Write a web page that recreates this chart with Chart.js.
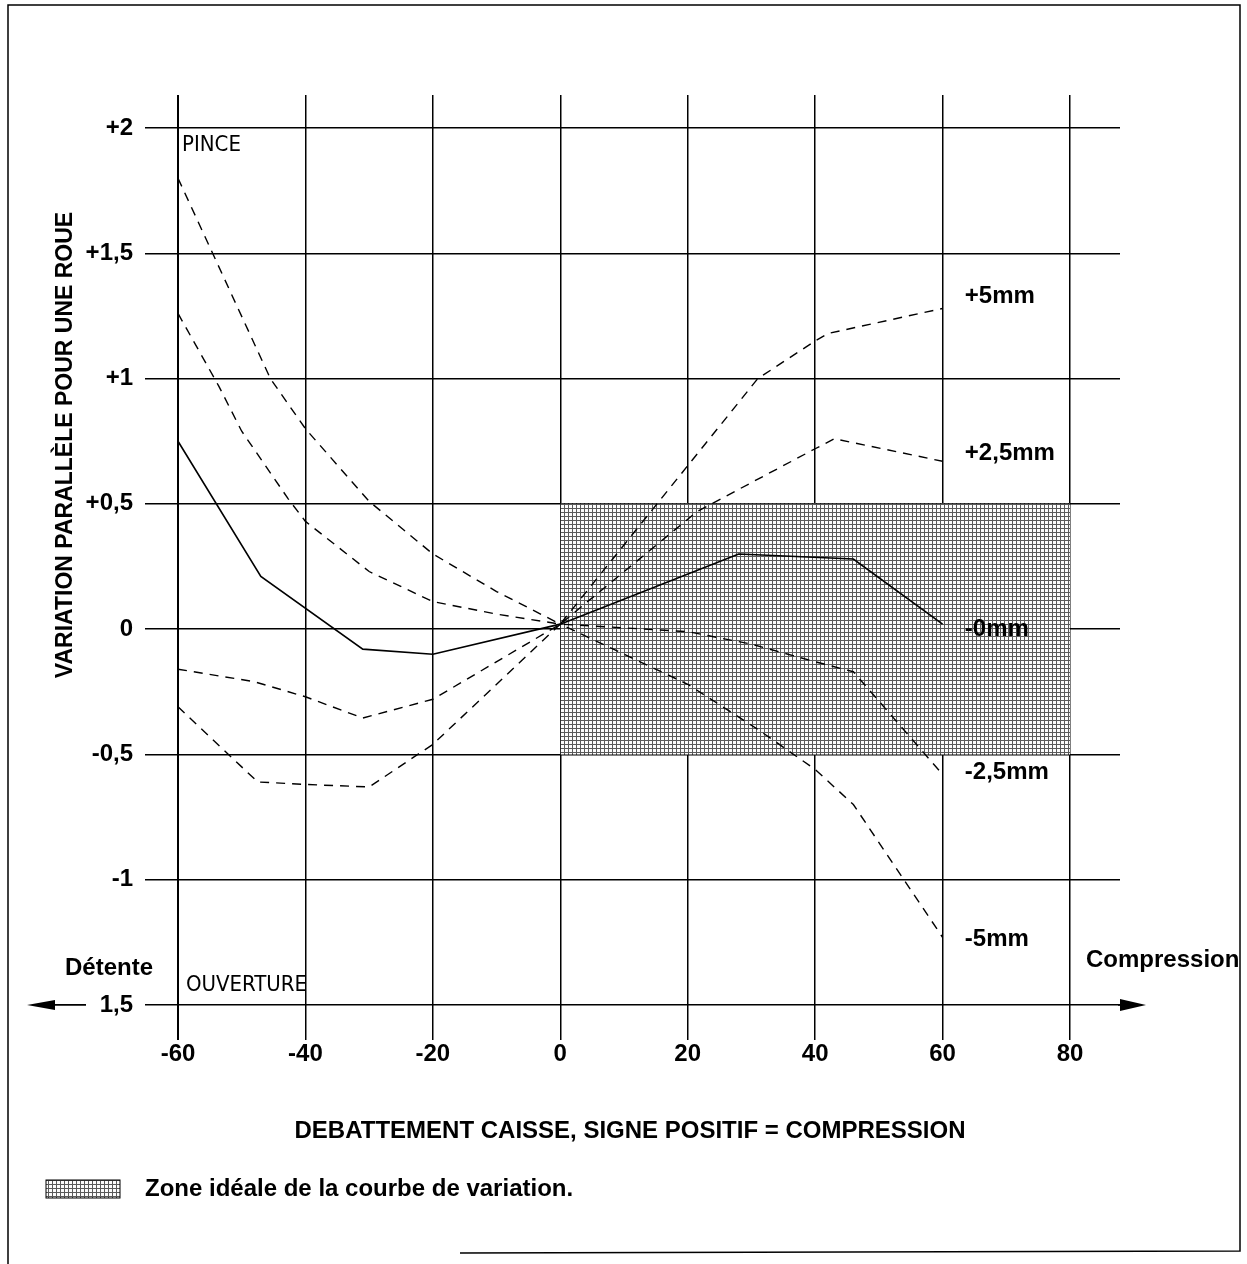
<!DOCTYPE html>
<html>
<head>
<meta charset="utf-8">
<script src="https://cdn.jsdelivr.net/npm/chart.js@4"></script>
<style>
  body { margin: 0; background: #fff; }
  #wrap { position: relative; width: 1247px; height: 1264px; }
</style>
</head>
<body>
<div id="wrap"><canvas id="myChart" width="1247" height="1264"></canvas></div>
<script>
// ticks
var xTicks = [-60, -40, -20, 0, 20, 40, 60, 80];
var xTickLabels = ["-60", "-40", "-20", "0", "20", "40", "60", "80"];
var yTicks = [-1.5, -1, -0.5, 0, 0.5, 1, 1.5, 2];
var yTickLabels = ["1,5", "-1", "-0,5", "0", "+0,5", "+1", "+1,5", "+2"];

// curves
var xPlus5 = [-60, -45.5, -40, -30, -20, -10, 0, 31, 40, 42, 60];
var yPlus5 = [1.8, 1.0, 0.8, 0.51, 0.3, 0.15, 0.02, 1.0, 1.15, 1.18, 1.28];

var xPlus25 = [-60, -53.6, -50, -42.7, -40, -30, -20, -10, 0, 21.5, 40, 43, 60];
var yPlus25 = [1.26, 0.97, 0.79, 0.52, 0.43, 0.23, 0.11, 0.06, 0.02, 0.47, 0.72, 0.76, 0.67];

var xZero = [-60, -47, -31, -20, 0, 28, 46, 60];
var yZero = [0.75, 0.21, -0.08, -0.1, 0.02, 0.3, 0.28, 0.02];

var xMinus25 = [-60, -48, -40, -31, -20, 0, 20, 30, 40, 46, 60];
var yMinus25 = [-0.16, -0.21, -0.27, -0.355, -0.28, 0.02, -0.01, -0.06, -0.13, -0.17, -0.58];

var xMinus5 = [-60, -47.5, -40, -30, -20, 0, 20, 31, 40, 46, 60];
var yMinus5 = [-0.31, -0.61, -0.62, -0.63, -0.46, 0.02, -0.22, -0.4, -0.56, -0.7, -1.23];

// ideal zone
var zoneX = [0, 80];
var zoneTop = 0.5;
var zoneBottom = -0.5;

// curve labels
var curveNames = ["+5mm", "+2,5mm", "-0mm", "-2,5mm", "-5mm"];
var curveLabelY = [1.33, 0.7, 0, -0.57, -1.24];

function pts(xs, ys) {
  return xs.map(function (x, i) { return { x: x, y: ys[i] }; });
}

// dotted screen used for the ideal zone
var tile = document.createElement("canvas");
tile.width = 4;
tile.height = 4;
var tc = tile.getContext("2d");
tc.fillStyle = "#fcfcfc";
tc.fillRect(0, 0, 4, 4);
tc.fillStyle = "#5a5a5a";
tc.fillRect(0, 0, 4, 1);
tc.fillRect(0, 0, 1, 4);
var zonePattern = tc.createPattern(tile, "repeat");

var FONT = "'Liberation Sans', Arial, sans-serif";
var NARROW = "'Liberation Sans Narrow', 'DejaVu Sans Condensed', sans-serif";

function curve(xs, ys, dashed) {
  return {
    data: pts(xs, ys),
    borderColor: "#000",
    borderWidth: dashed ? 1.4 : 1.6,
    borderDash: dashed ? [9, 7] : [],
    pointRadius: 0,
    fill: false,
    tension: 0,
    order: 0
  };
}

var decor = {
  id: "decor",
  afterDraw: function (chart) {
    var ctx = chart.ctx;
    var xs = chart.scales.x, ys = chart.scales.y;
    ctx.save();
    ctx.strokeStyle = "#000";
    ctx.fillStyle = "#000";

    // frame of the page
    ctx.lineWidth = 1.5;
    ctx.beginPath();
    ctx.moveTo(8, 1264);
    ctx.lineTo(8, 5);
    ctx.lineTo(1240, 5);
    ctx.lineTo(1240, 1251);
    ctx.lineTo(460, 1253);
    ctx.stroke();

    // arrows on the -1,5 line
    var yb = ys.getPixelForValue(-1.5);
    ctx.lineWidth = 1.8;
    ctx.beginPath();
    ctx.moveTo(48, yb); ctx.lineTo(86, yb);
    ctx.moveTo(1118, yb); ctx.lineTo(1126, yb);
    ctx.stroke();
    ctx.beginPath();
    ctx.moveTo(27, yb); ctx.lineTo(55, yb - 5); ctx.lineTo(55, yb + 5); ctx.closePath();
    ctx.fill();
    ctx.beginPath();
    ctx.moveTo(1146, yb); ctx.lineTo(1120, yb - 6); ctx.lineTo(1120, yb + 6); ctx.closePath();
    ctx.fill();

    // axis titles
    ctx.font = "bold 24px " + FONT;
    ctx.textAlign = "center";
    ctx.textBaseline = "middle";
    ctx.fillText("DEBATTEMENT CAISSE, SIGNE POSITIF = COMPRESSION", 630, 1131);
    ctx.save();
    ctx.translate(66, 445);
    ctx.rotate(-Math.PI / 2);
    ctx.font = "bold 23px " + FONT;
    ctx.fillText("VARIATION PARALLÈLE POUR UNE ROUE", 0, 0);
    ctx.restore();

    // side words
    ctx.textAlign = "left";
    ctx.font = "bold 24px " + FONT;
    ctx.fillText("Détente", 65, 968);
    ctx.fillText("Compression", 1086, 960);

    // curve names
    for (var i = 0; i < curveNames.length; i++) {
      ctx.fillText(curveNames[i], xs.getPixelForValue(63.5), ys.getPixelForValue(curveLabelY[i]));
    }

    // legend
    ctx.fillStyle = zonePattern;
    ctx.fillRect(46, 1180, 74, 18);
    ctx.lineWidth = 1;
    ctx.strokeRect(46, 1180, 74, 18);
    ctx.fillStyle = "#000";
    ctx.font = "bold 24px " + FONT;
    ctx.fillText("Zone idéale de la courbe de variation.", 145, 1189);

    // PINCE / OUVERTURE
    ctx.font = "22px " + NARROW;
    ctx.fillText("PINCE", 182, 145);
    ctx.fillText("OUVERTURE", 186, 985);
    ctx.restore();
  }
};

new Chart("myChart", {
  type: "line",
  data: {
    datasets: [
      {
        data: pts(zoneX, [zoneTop, zoneTop]),
        borderWidth: 0,
        borderColor: "rgba(0,0,0,0)",
        backgroundColor: zonePattern,
        pointRadius: 0,
        fill: { value: zoneBottom },
        order: 5
      },
      curve(xPlus5, yPlus5, true),
      curve(xPlus25, yPlus25, true),
      curve(xZero, yZero, false),
      curve(xMinus25, yMinus25, true),
      curve(xMinus5, yMinus5, true)
    ]
  },
  options: {
    responsive: false,
    animation: false,
    devicePixelRatio: 1,
    layout: { padding: { top: 95, right: 127, left: 0, bottom: 0 } },
    plugins: { legend: { display: false }, tooltip: { enabled: false } },
    scales: {
      x: {
        type: "linear",
        min: -65.18,
        max: 87.85,
        z: 1,
        border: { display: false },
        grid: {
          color: "#000",
          lineWidth: function (c) { return c.tick && c.tick.value === -60 ? 2 : 1.5; },
          drawTicks: false
        },
        afterBuildTicks: function (scale) {
          scale.ticks = xTicks.map(function (v) { return { value: v }; });
        },
        afterFit: function (scale) { scale.height = 224; },
        ticks: {
          autoSkip: false,
          maxRotation: 0,
          padding: 0,
          color: "#000",
          font: { family: FONT, size: 24, weight: "bold" },
          callback: function (v) { return xTickLabels[xTicks.indexOf(v)]; }
        }
      },
      y: {
        type: "linear",
        min: -1.64,
        max: 2.132,
        z: 1,
        border: { display: false },
        grid: {
          color: "#000",
          lineWidth: 1.5,
          drawTicks: false
        },
        afterBuildTicks: function (scale) {
          scale.ticks = yTicks.map(function (v) { return { value: v }; });
        },
        afterFit: function (scale) { scale.width = 145; },
        ticks: {
          autoSkip: false,
          padding: 12,
          color: "#000",
          font: { family: FONT, size: 24, weight: "bold" },
          callback: function (v) { return yTickLabels[yTicks.indexOf(v)]; }
        }
      }
    }
  },
  plugins: [decor]
});
</script>
</body>
</html>
